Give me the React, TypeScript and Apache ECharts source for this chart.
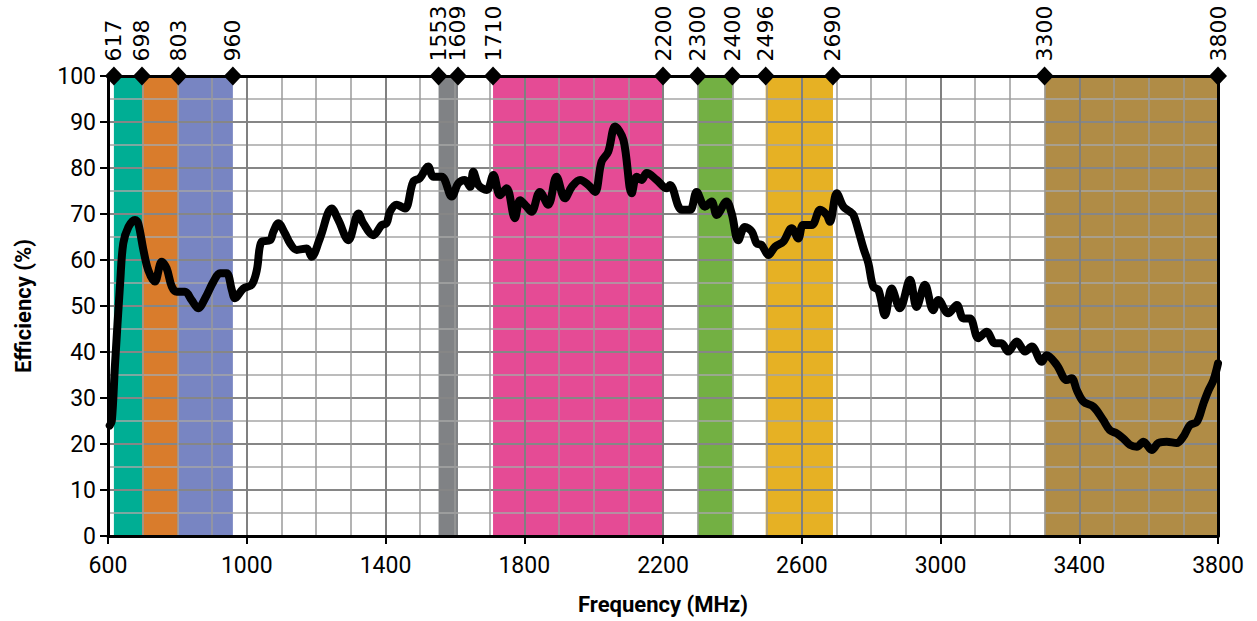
import React, { useEffect, useRef } from "react";
import * as echarts from "echarts";

// Measured efficiency curve (frequency in MHz, efficiency in %)
const freqMHz = [
  605, 611, 620, 635, 644, 659, 678, 687, 702, 716, 735, 755, 769, 784, 798, 822, 841, 860, 880, 904,
  923, 942, 957, 966, 990, 1014, 1029, 1043, 1067, 1077, 1091, 1110, 1125, 1144, 1173, 1187, 1211, 1245,
  1264, 1293, 1322, 1336, 1365, 1389, 1403, 1413, 1432, 1456, 1480, 1499, 1523, 1538, 1562, 1591, 1610,
  1629, 1644, 1653, 1668, 1692, 1711, 1730, 1749, 1773, 1788, 1807, 1821, 1845, 1869, 1893, 1917, 1937,
  1961, 1985, 2004, 2023, 2042, 2062, 2086, 2110, 2124, 2138, 2153, 2182, 2211, 2220, 2254, 2278, 2297,
  2321, 2340, 2355, 2383, 2398, 2417, 2436, 2456, 2470, 2484, 2504, 2523, 2547, 2571, 2590, 2604, 2629,
  2653, 2672, 2681, 2701, 2720, 2739, 2749, 2763, 2778, 2792, 2806, 2821, 2840, 2859, 2883, 2912, 2931,
  2955, 2979, 2994, 3022, 3047, 3066, 3085, 3109, 3133, 3157, 3176, 3195, 3220, 3244, 3263, 3292, 3306,
  3335, 3364, 3378, 3393, 3412, 3441, 3469, 3488, 3508, 3527, 3546, 3566, 3585, 3609, 3628, 3652, 3681,
  3700, 3719, 3739, 3758, 3773, 3787, 3800,
];
const efficiency = [
  24, 25, 37, 55, 63.6, 67.2, 68.7, 68, 62.2, 57.8, 55.3, 59.6, 58.2, 54.2, 53.1, 53.1, 51.3, 49.5, 51.7, 55.3,
  57.1, 57.1, 53.5, 51.7, 53.8, 54.6, 57.8, 64, 64.3, 66.2, 68, 65.8, 63.6, 62.2, 62.5, 60.7, 64.7, 71.2,
  68.7, 64.3, 70.1, 68, 65.4, 67.6, 68, 70.5, 72, 71.2, 77, 77.8, 80.3, 78.1, 78.1, 73.8, 76.7,
  77.4, 75.9, 79.2, 76.3, 75.2, 78.5, 74.1, 75.6, 69.1, 73, 71.6, 70.5, 74.8, 72, 78.1, 73.4, 75.9,
  77.4, 76.3, 74.8, 81.4, 83.5, 89, 86.1, 74.5, 78.1, 77.4, 78.9, 77.4, 75.6, 76.3, 70.9, 70.9, 74.8,
  71.6, 72.7, 69.8, 72.7, 70.1, 64.3, 67.2, 66.2, 63.6, 63.3, 61.1, 62.9, 64, 66.9, 64.7, 67.6, 67.6,
  70.9, 69.8, 68.3, 74.5, 71.6, 70.5, 69.8, 66.5, 62.5, 59.3, 54.2, 53.5, 48, 53.8, 49.5, 55.7, 49.8,
  54.6, 49.1, 51.3, 48.4, 50.2, 47.3, 47.3, 43, 44.4, 41.9, 41.9, 40.1, 42.3, 40.1, 41.2, 37.9, 39.3,
  37.2, 33.9, 34.3, 31.7, 29.2, 28.1, 25.2, 23, 22.3, 21.2, 19.8, 19.4, 20.5, 18.7, 20.2, 20.5, 20.2,
  21.6, 24.1, 24.8, 28.8, 31.7, 33.9, 37.5,
];

// Frequency bands (MHz)
const bandStart = [617, 698, 803, 1553, 1710, 2300, 2496, 3300];
const bandEnd = [698, 803, 960, 1609, 2200, 2400, 2690, 3800];
const bandColors = ["#00ae94", "#d97c2c", "#7885c2", "#808285", "#e54b95", "#73b043", "#e6b124", "#b08c46"];

// Band-edge markers along the top
const markerFreqs = [617, 698, 803, 960, 1553, 1609, 1710, 2200, 2300, 2400, 2496, 2690, 3300, 3800];

const FONT = "Roboto, 'Noto Sans', sans-serif";
const TOP_FONT = "'DejaVu Sans', sans-serif";

export default function App() {
  const ref = useRef<HTMLDivElement>(null);
  useEffect(() => {
    const chart = echarts.init(ref.current!, null, { renderer: "svg" });
    chart.setOption({
      animation: false,
      backgroundColor: "#ffffff",
      textStyle: { fontFamily: FONT },
      grid: { left: 108, right: 39, top: 76, bottom: 85, containLabel: false },
      xAxis: [
        {
          type: "value",
          min: 600,
          max: 3800,
          interval: 400,
          position: "bottom",
          z: 3,
          axisLine: { show: true, onZero: false, lineStyle: { color: "#000", width: 3 } },
          axisTick: { show: true, length: 8, lineStyle: { color: "#000", width: 2 } },
          axisLabel: {
            color: "#000",
            fontSize: 23,
            fontFamily: FONT,
            margin: 18,
            formatter: (v: number) => String(v),
          },
          splitLine: { show: true, lineStyle: { color: "#808080", width: 2 } },
          minorTick: { show: false, splitNumber: 4 },
          minorSplitLine: { show: true, lineStyle: { color: "#9a9a9a", width: 1.5 } },
          name: "Frequency (MHz)",
          nameLocation: "middle",
          nameGap: 57,
          nameTextStyle: { color: "#000", fontWeight: "bold", fontSize: 22, fontFamily: FONT },
        },
        {
          type: "value",
          min: 600,
          max: 3800,
          position: "top",
          z: 3,
          axisLine: { show: true, onZero: false, lineStyle: { color: "#000", width: 3 } },
          axisTick: { show: false },
          axisLabel: { show: false },
          splitLine: { show: false },
        },
      ],
      yAxis: [
        {
          type: "value",
          min: 0,
          max: 100,
          interval: 10,
          z: 3,
          axisLine: { show: true, onZero: false, lineStyle: { color: "#000", width: 3 } },
          axisTick: { show: true, length: 8, lineStyle: { color: "#000", width: 2 } },
          axisLabel: { color: "#000", fontSize: 23, fontFamily: FONT, margin: 12 },
          splitLine: { show: true, lineStyle: { color: "#868686", width: 2 } },
          minorTick: { show: false, splitNumber: 2 },
          minorSplitLine: { show: true, lineStyle: { color: "#a6a6a6", width: 1.5 } },
          name: "Efficiency (%)",
          nameLocation: "middle",
          nameGap: 74,
          nameTextStyle: { color: "#000", fontWeight: "bold", fontSize: 22, fontFamily: FONT },
        },
        {
          type: "value",
          min: 0,
          max: 100,
          position: "right",
          z: 3,
          axisLine: { show: true, onZero: false, lineStyle: { color: "#000", width: 3 } },
          axisTick: { show: false },
          axisLabel: { show: false },
          splitLine: { show: false },
        },
      ],
      series: [
        {
          type: "line",
          z: 1,
          data: [],
          silent: true,
          markArea: {
            silent: true,
            data: bandStart.map((s, i) => [
              { xAxis: s, yAxis: 0, itemStyle: { color: bandColors[i], opacity: 1 } },
              { xAxis: bandEnd[i], yAxis: 100 },
            ]),
          },
        },
        {
          type: "line",
          z: 5,
          data: freqMHz.map((f, i) => [f, efficiency[i]]),
          showSymbol: false,
          smooth: 0.35,
          clip: false,
          lineStyle: { color: "#000", width: 8, join: "round", cap: "round" },
          silent: true,
        },
        {
          type: "scatter",
          z: 6,
          clip: false,
          data: markerFreqs.map((f) => [f, 100]),
          symbol: "diamond",
          symbolSize: [18, 19],
          itemStyle: { color: "#000", opacity: 1 },
          label: {
            show: true,
            position: "top",
            rotate: 90,
            align: "left",
            verticalAlign: "middle",
            distance: 5,
            fontSize: 22,
            fontFamily: TOP_FONT,
            color: "#000",
            formatter: (p: any) => String(p.value[0]),
          },
          silent: true,
        },
      ],
    });
    return () => chart.dispose();
  }, []);
  return (
    <div
      ref={ref}
      style={{ position: "fixed", left: 0, top: 0, width: "1257px", height: "621px" }}
    />
  );
}
